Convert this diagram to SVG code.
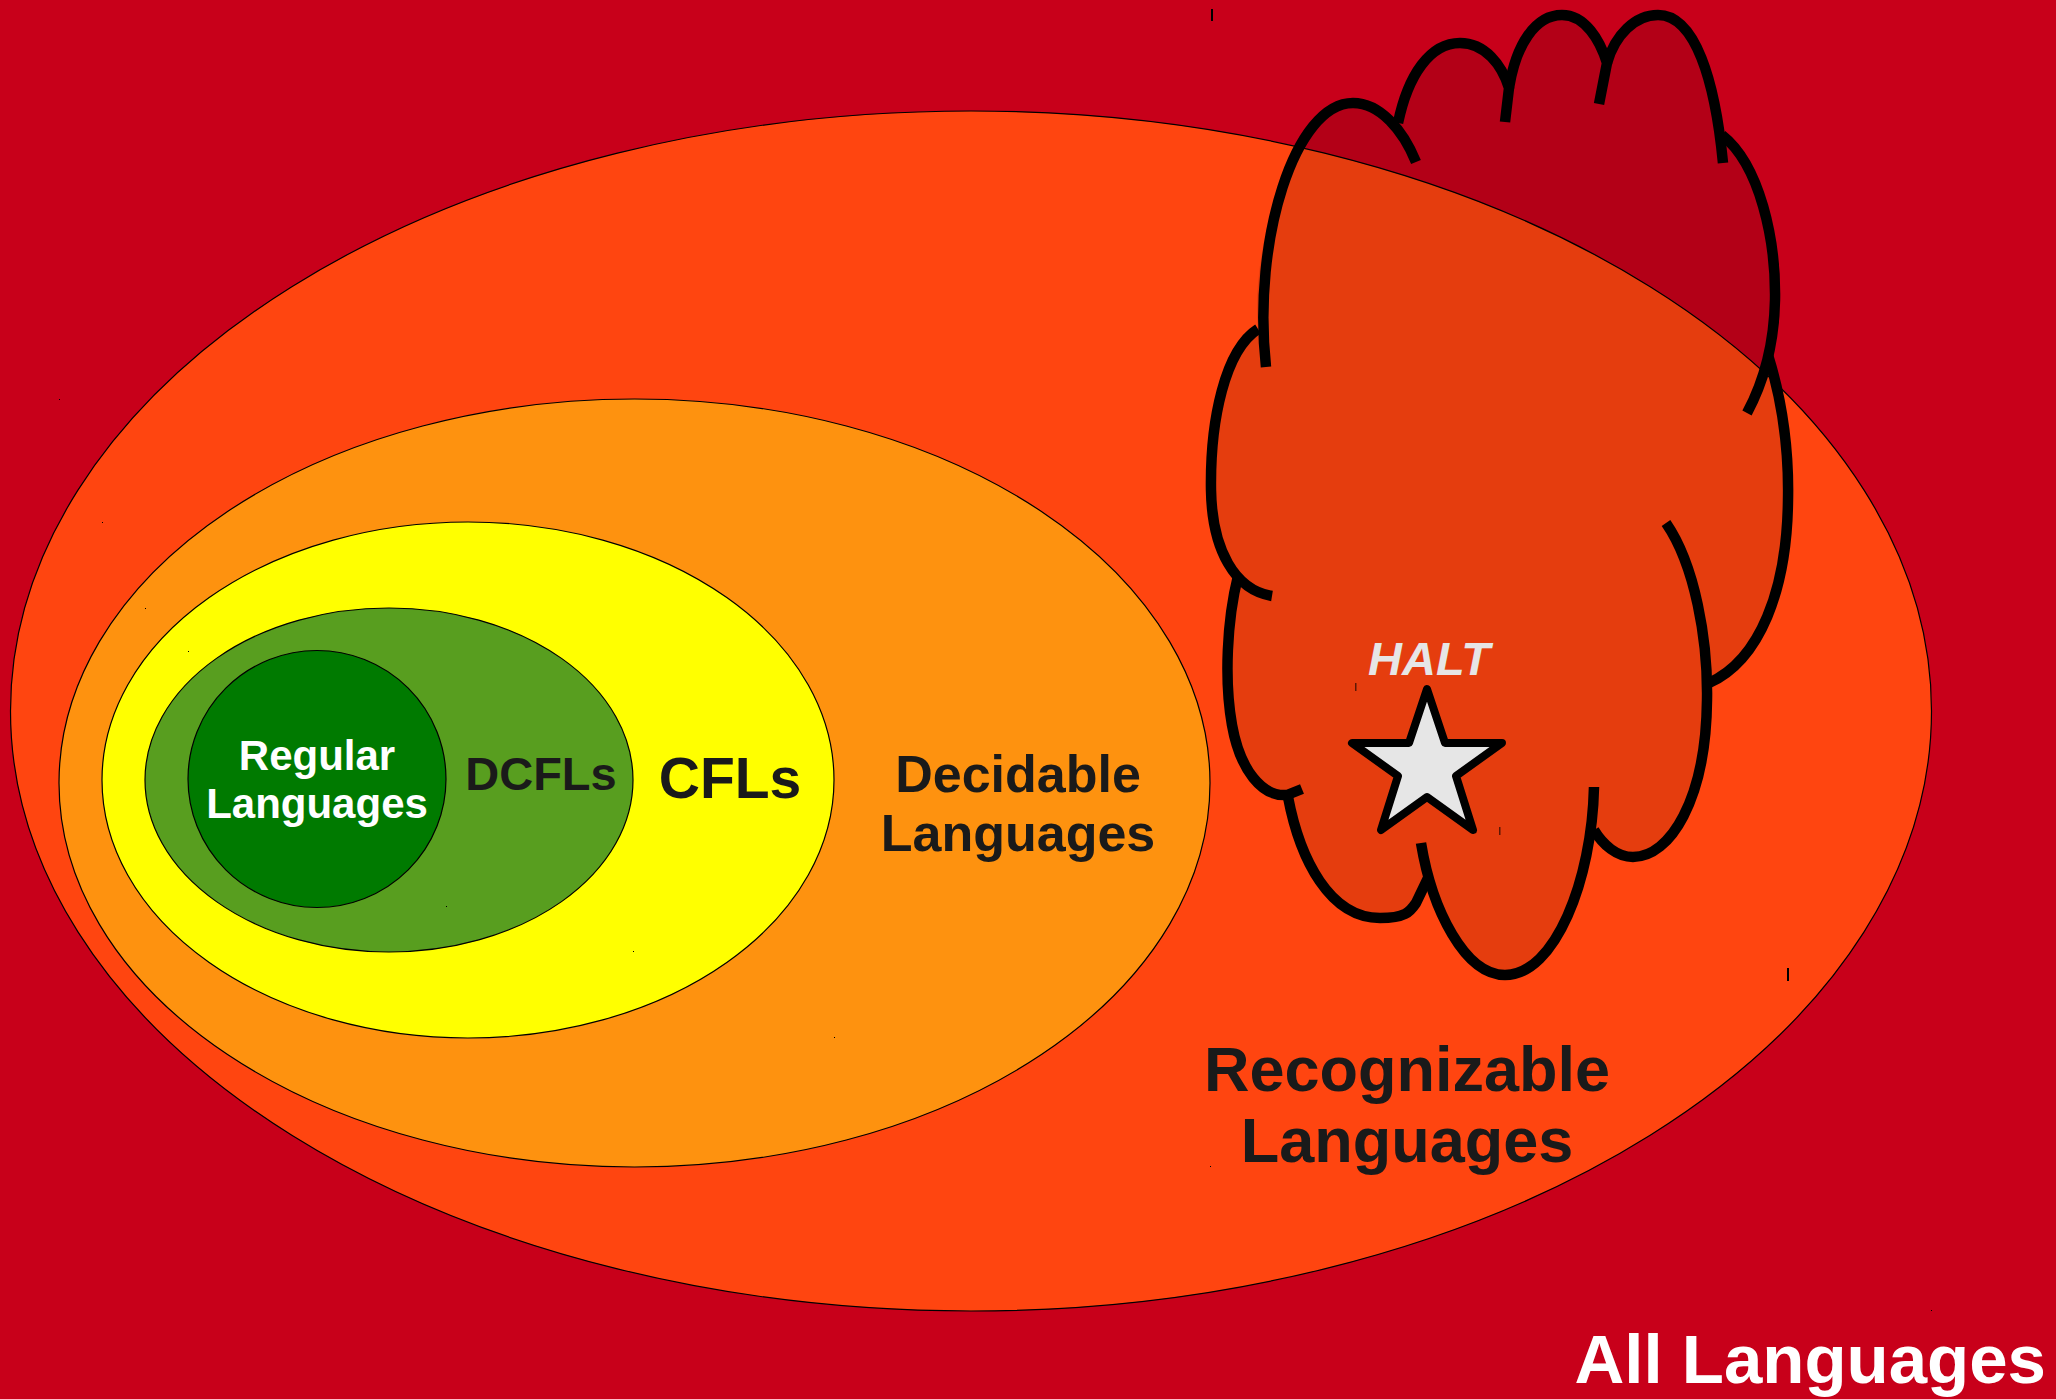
<svg xmlns="http://www.w3.org/2000/svg" width="2056" height="1399" viewBox="0 0 2056 1399">
<style>
.set{stroke:#000;stroke-width:1.2}
.lbl{font-family:"Liberation Sans",Arial,sans-serif;font-weight:bold;text-anchor:middle;fill:#1a1a1a}
.wht{fill:#ffffff}
.cl{fill:none;stroke:#000;stroke-width:10.5;stroke-linecap:butt;stroke-linejoin:round}
.dot{fill:#000}
</style>
<rect id="background" x="0" y="0" width="2056" height="1399" fill="#c8001a"/>
<g id="recognizable">
<ellipse class="set" cx="971" cy="711" rx="960.5" ry="600" fill="#ff4510"/>
</g>
<g id="decidable">
<ellipse class="set" cx="634.5" cy="783" rx="575.5" ry="384" fill="#fe920f"/>
</g>
<g id="cfl">
<ellipse class="set" cx="468" cy="780" rx="366" ry="258" fill="#ffff00"/>
</g>
<g id="dcfl">
<ellipse class="set" cx="389" cy="780" rx="244" ry="172" fill="#589e1f"/>
</g>
<g id="regular">
<ellipse class="set" cx="317" cy="779" rx="129" ry="128.5" fill="#007a00"/>
<text class="lbl wht" x="317" y="770" font-size="42">Regular</text>
<text class="lbl wht" x="317" y="818" font-size="42">Languages</text>
</g>
<g id="labels">
<text class="lbl" x="541" y="790" font-size="47">DCFLs</text>
<text class="lbl" x="730" y="798" font-size="57">CFLs</text>
<text class="lbl" x="1018" y="792" font-size="52">Decidable</text>
<text class="lbl" x="1018" y="851" font-size="52">Languages</text>
<text class="lbl" x="1407" y="1091" font-size="63">Recognizable</text>
<text class="lbl" x="1407" y="1162" font-size="63">Languages</text>
<text class="lbl wht" x="2046" y="1383" font-size="69" style="text-anchor:end">All Languages</text>
</g>
<g id="halt-cloud">
<path d="M1258,330 C1250,250 1290,103 1353,103 C1375,103 1390,115 1398,123 C1408,75 1430,43 1460,43 C1485,43 1502,65 1509,88 C1516,45 1535,15 1562,15 C1585,15 1600,40 1607,63 C1615,35 1635,15 1658,15 C1690,15 1710,70 1720,135 C1760,165 1776,240 1775,300 C1775,320 1773,340 1769,357 C1782,400 1789,450 1788,500 C1787,590 1760,660 1707,690 C1706,800 1670,857 1633,857 C1617,857 1603,845 1591,828 C1585,900 1555,975 1505,975 C1465,975 1440,920 1428,880 L1416,903 C1410,912 1405,918 1380,918 C1330,918 1300,860 1288,797 C1262,797 1240,770 1232,725 C1224,680 1227,620 1237,578 C1225,560 1212,530 1211,490 C1210,420 1225,350 1258,330 Z" fill="#000" fill-opacity="0.1"/>
<path class="cl" d="M1266,367 C1252,240 1295,103 1353,103 C1380,103 1403,130 1416,162"/>
<path class="cl" d="M1398,123 C1408,75 1430,43 1460,43 C1485,43 1502,65 1509,88 L1505,122"/>
<path class="cl" d="M1509,88 C1516,45 1535,15 1562,15 C1585,15 1600,40 1607,63 L1599,104"/>
<path class="cl" d="M1607,63 C1615,35 1635,15 1658,15 C1695,15 1715,80 1723,163"/>
<path class="cl" d="M1722,135 C1760,165 1776,240 1775,300 C1774,350 1762,385 1747,413"/>
<path class="cl" d="M1768,355 C1782,400 1789,450 1788,500 C1787,590 1760,660 1709,683"/>
<path class="cl" d="M1666,523 C1695,565 1708,640 1707,700 C1706,800 1670,857 1633,857 C1617,857 1603,845 1594,830"/>
<path class="cl" d="M1594,787 C1592,880 1555,975 1505,975 C1465,975 1432,910 1421,843"/>
<path class="cl" d="M1288,797 C1300,860 1330,918 1380,918 C1405,918 1410,912 1416,903 L1428,878"/>
<path class="cl" d="M1238,576 C1227,620 1224,680 1232,725 C1240,770 1262,797 1287,795 L1302,789"/>
<path class="cl" d="M1258,329 C1225,350 1210,420 1211,490 C1212,550 1235,590 1272,596"/>
</g>
<g id="halt">
<polygon points="1427,689 1445,743 1502,743 1456,776 1473,830 1427,797 1381,830 1398,776 1352,743 1409,743" fill="#e6e6e6" stroke="#000" stroke-width="8" stroke-linejoin="round"/>
<text class="lbl" x="1429" y="675" font-size="47" font-style="italic" fill="#e6e6e6" style="fill:#e6e6e6">HALT</text>
</g>
<g id="marks">
<rect class="dot" x="1211" y="9" width="2" height="12"/>
<rect class="dot" x="1355" y="683" width="1.5" height="8" opacity="0.6"/>
<rect class="dot" x="1499" y="827" width="1.5" height="8" opacity="0.6"/>
<rect class="dot" x="1787" y="968" width="2" height="13"/>
<rect class="dot" x="59" y="399" width="1" height="1"/>
<rect class="dot" x="102" y="522" width="1" height="1"/>
<rect class="dot" x="145" y="608" width="1" height="1"/>
<rect class="dot" x="188" y="651" width="1" height="1"/>
<rect class="dot" x="446" y="906" width="1" height="1"/>
<rect class="dot" x="633" y="951" width="1" height="1"/>
<rect class="dot" x="834" y="1037" width="1" height="1"/>
<rect class="dot" x="1210" y="1166" width="1" height="1"/>
<rect class="dot" x="1931" y="1310" width="1" height="1"/>
</g>
</svg>
